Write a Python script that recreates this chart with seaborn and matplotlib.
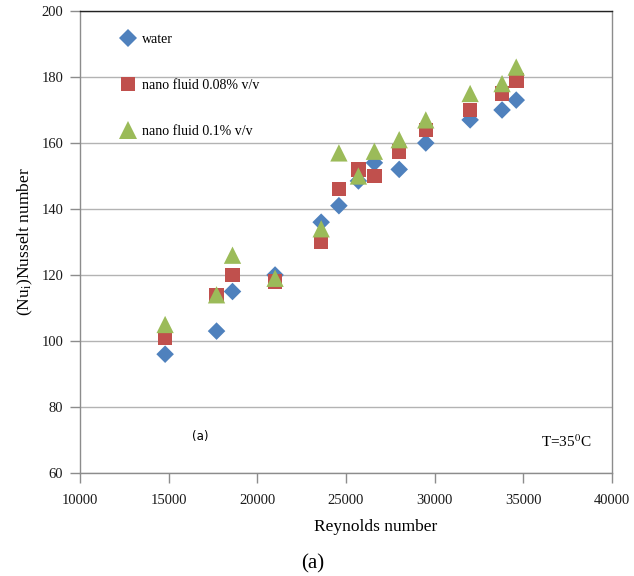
import numpy as np
import pandas as pd
import matplotlib
matplotlib.use("Agg")
import matplotlib.pyplot as plt
import seaborn as sns

reynolds = [14800, 17700, 18600, 21000, 23600, 24600, 25700, 26600, 28000, 29500, 32000, 33800, 34600]
nu_water = [96, 103, 115, 120, 136, 141, 148.5, 154, 152, 160, 167, 170, 173]
nu_nf008 = [101, 114, 120, 118, 130, 146, 152, 150, 157.5, 164, 170, 175, 179]
nu_nf01 = [105, 114, 126, 119, 134, 157, 150, 157.5, 161, 167, 175, 178, 183]
series_names = ["water", "nano fluid 0.08% v/v", "nano fluid 0.1% v/v"]
colors = ["#4F81BD", "#C0504D", "#9BBB59"]
markers = ["D", "s", "^"]
marker_sizes = [80, 110, 155]

df = pd.concat([
    pd.DataFrame({"Re": reynolds, "Nu": vals, "series": name})
    for name, vals in zip(series_names, [nu_water, nu_nf008, nu_nf01])
], ignore_index=True)

sns.set_theme(style="white")
plt.rcParams["font.family"] = ["Liberation Serif", "DejaVu Serif"]
plt.rcParams["mathtext.fontset"] = "stix"
plt.rcParams["text.color"] = "black"
plt.rcParams["axes.labelcolor"] = "black"

fig = plt.figure(figsize=(6.34, 5.76), dpi=100)
ax = fig.add_axes([80/634, 1-473/576, 532/634, 462/576])

sns.scatterplot(data=df, x="Re", y="Nu", hue="series", style="series", size="series",
                palette=dict(zip(series_names, colors)),
                markers=dict(zip(series_names, markers)),
                sizes=dict(zip(series_names, marker_sizes)),
                linewidth=0, edgecolor="none", ax=ax, zorder=3)

ax.set_xlim(10000, 40000)
ax.set_ylim(60, 200)
ax.set_xticks(np.arange(10000, 40001, 5000))
ax.set_yticks(np.arange(60, 201, 20))
ax.yaxis.grid(True, color="#b3b3b3", linewidth=1)
ax.xaxis.grid(False)
for side in ["left", "bottom", "right"]:
    ax.spines[side].set_color("#8c8c8c")
    ax.spines[side].set_linewidth(1)
ax.spines["top"].set_color("#222222")
ax.spines["top"].set_linewidth(1)
ax.tick_params(axis="both", which="both", direction="out", length=7, width=1,
               color="#8c8c8c", labelsize=10.5, labelcolor="#1a1a1a")
ax.tick_params(axis="x", pad=8)
ax.tick_params(axis="y", pad=5)
ax.tick_params(left=True, bottom=True)

ax.set_xlabel("Reynolds number", fontsize=12.5, color="black")
ax.set_ylabel(r"(Nu$_\mathrm{i}$)Nusselt number", fontsize=12.5, color="black")
ax.xaxis.set_label_coords((376-80)/532, -(519-473)/462)
ax.yaxis.set_label_coords(-(80-35)/532, 0.5)

sns.move_legend(ax, loc="upper left", bbox_to_anchor=(0.04, 0.98), title=None,
                frameon=False, fontsize=10, labelspacing=2.37, handletextpad=0.05,
                markerscale=1.0)

ax.text(0.2256, 0.078, "(a)", transform=ax.transAxes, fontsize=8.5,
        family="DejaVu Sans", ha="center", va="center")
ax.text(0.962, 0.067, r"T=35$^\mathrm{0}$C", transform=ax.transAxes, fontsize=11,
        ha="right", va="center")
fig.text(313/634, 1-564/576, "(a)", fontsize=15, ha="center", va="center")

fig.savefig("out.png", dpi=100)
